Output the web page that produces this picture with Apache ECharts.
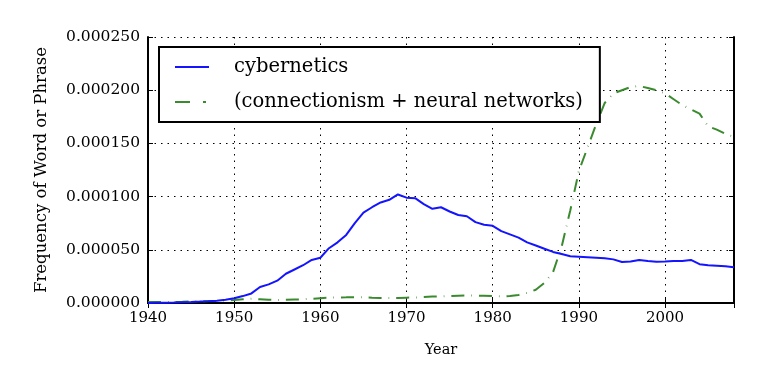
<!DOCTYPE html>
<html>
<head>
<meta charset="utf-8">
<script src="https://cdn.jsdelivr.net/npm/echarts@6/dist/echarts.min.js"></script>
<style>
  html, body { margin: 0; padding: 0; background: #fff; }
  #chart { width: 764px; height: 378px; }
</style>
</head>
<body>
<div id="chart"></div>
<script>
// values are in units of 1e-5
let years = [];
for (let y = 1940; y <= 2008; y++) years.push(y);

let cybernetics = [
  0.0, 0.02, 0.03, 0.05, 0.08, 0.1, 0.13, 0.17, 0.22, 0.3,
  0.44, 0.65, 0.9, 1.5, 1.75, 2.1, 2.75, 3.15, 3.55, 4.05,
  4.25, 5.15, 5.7, 6.4, 7.5, 8.5, 9.0, 9.45, 9.7, 10.2,
  9.9, 9.85, 9.3, 8.85, 9.0, 8.6, 8.27, 8.15, 7.6, 7.35,
  7.25, 6.75, 6.45, 6.15, 5.7, 5.4, 5.1, 4.8, 4.6, 4.4,
  4.35, 4.3, 4.25, 4.2, 4.1, 3.85, 3.9, 4.05, 3.95, 3.87,
  3.9, 3.95, 3.95, 4.05, 3.65, 3.55, 3.5, 3.45, 3.35
];

let connectionism = [
  0.1, 0.1, 0.1, 0.1, 0.12, 0.15, 0.15, 0.18, 0.2, 0.22,
  0.28, 0.35, 0.4, 0.35, 0.3, 0.28, 0.3, 0.33, 0.35, 0.4,
  0.45, 0.5, 0.52, 0.53, 0.55, 0.53, 0.5, 0.48, 0.47, 0.48,
  0.5, 0.52, 0.56, 0.6, 0.63, 0.66, 0.69, 0.7, 0.69, 0.67,
  0.65, 0.62, 0.65, 0.75, 0.95, 1.25, 1.9, 2.9, 5.3, 8.7,
  12.4, 14.6, 16.8, 18.8, 19.7, 20.0, 20.3, 20.4, 20.2, 20.0,
  19.7, 19.15, 18.6, 18.2, 17.8, 16.6, 16.3, 15.9, 15.6
];

let seriesNames = ['cybernetics', '(connectionism + neural networks)'];

let pairs = function (vals) {
  return years.map(function (y, i) { return [y, vals[i]]; });
};

let font = 'DejaVu Serif';
let blue = '#1414ff';
let green = '#3a8a2e';
let myChart = echarts.init(document.getElementById('chart'));

let gridLine = { show: true, lineStyle: { color: '#000', type: [1.5, 5], width: 1 } };
let frameLine = { show: true, lineStyle: { color: '#000', width: 2 } };
let tickIn = { show: true, inside: true, length: 5, lineStyle: { color: '#000', width: 1 } };

let option = {
  animation: false,
  grid: { left: 148, right: 30, top: 37, bottom: 75, containLabel: false },
  legend: {
    orient: 'vertical',
    left: 159,
    top: 47,
    padding: [10, 17, 10, 15],
    itemWidth: 34,
    itemHeight: 20,
    itemGap: 15,
    backgroundColor: '#fff',
    borderColor: '#000',
    borderWidth: 2,
    borderRadius: 0,
    itemStyle: { opacity: 0 },
    textStyle: { fontFamily: font, fontSize: 19.5, lineHeight: 20, color: '#000', padding: [0, 0, 0, 20] },
    data: [
      { name: seriesNames[0], lineStyle: { color: blue, width: 2, type: 'solid' } },
      { name: seriesNames[1], lineStyle: { color: green, width: 2, type: [15, 13, 3, 20] } }
    ]
  },
  xAxis: [{
    type: 'value', min: 1940, max: 2008, interval: 10,
    name: 'Year', nameLocation: 'middle', nameGap: 40,
    nameTextStyle: { fontFamily: font, fontSize: 14.5, color: '#000' },
    axisLine: frameLine, axisTick: tickIn, splitLine: gridLine,
    axisLabel: {
      fontFamily: font, fontSize: 15, color: '#000', margin: 8, showMaxLabel: false,
      formatter: function (v) { return String(v); }
    }
  }, {
    type: 'value', min: 1940, max: 2008, interval: 10, position: 'top',
    axisLine: frameLine, axisTick: tickIn, splitLine: { show: false },
    axisLabel: { show: false }
  }],
  yAxis: [{
    type: 'value', min: 0, max: 25, interval: 5,
    name: 'Frequency of Word or Phrase', nameLocation: 'middle', nameGap: 98,
    nameTextStyle: { fontFamily: font, fontSize: 16.5, color: '#000' },
    axisLine: frameLine, axisTick: tickIn, splitLine: gridLine,
    axisLabel: {
      fontFamily: font, fontSize: 15.5, color: '#000', margin: 8,
      formatter: function (v) { return (v * 1e-5).toFixed(6); }
    }
  }, {
    type: 'value', min: 0, max: 25, interval: 5, position: 'right',
    axisLine: frameLine, axisTick: tickIn, splitLine: { show: false },
    axisLabel: { show: false }
  }],
  series: [{
    name: seriesNames[0],
    type: 'line',
    showSymbol: false,
    symbol: 'none',
    data: pairs(cybernetics),
    itemStyle: { color: blue },
    lineStyle: { color: blue, width: 2 },
    z: 3
  }, {
    name: seriesNames[1],
    type: 'line',
    showSymbol: false,
    symbol: 'none',
    data: pairs(connectionism),
    itemStyle: { color: green },
    lineStyle: { color: green, width: 2, type: [13, 7, 0.6, 7] },
    z: 2
  }]
};
myChart.setOption(option);
</script>
</body>
</html>
